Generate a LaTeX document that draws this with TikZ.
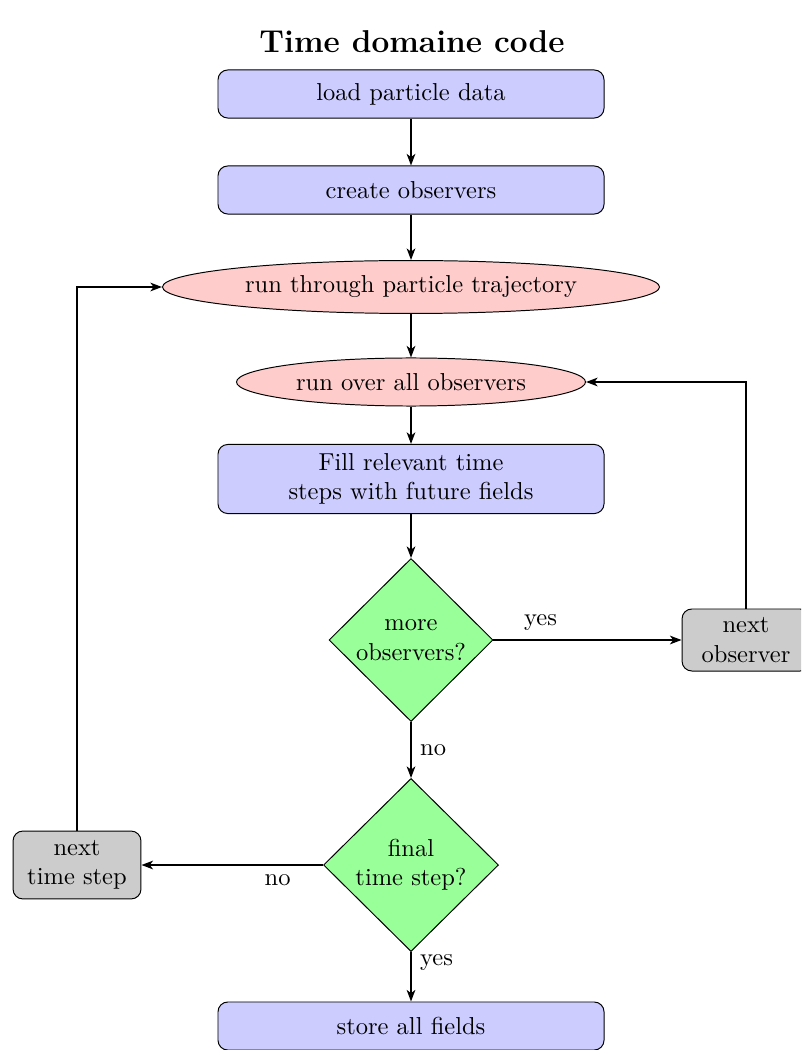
\documentclass[tikz,border=0pt]{standalone}
\usetikzlibrary{shapes.geometric,arrows.meta}

\tikzset{
  block/.style={rectangle, draw, fill=blue!20, rounded corners=4pt,
    align=center, inner sep=0pt, minimum width=157.5pt},
  cloud/.style={ellipse, draw, fill=red!20, inner sep=0pt},
  decision/.style={diamond, draw, fill=green!40, align=center, inner sep=0pt},
  aside/.style={rectangle, draw, fill=gray!40, rounded corners=4pt,
    align=center, inner sep=0pt, minimum width=52.2pt},
  link/.style={draw, thick, -{Stealth[length=4.7pt, width=3.5pt, inset=1.3pt]}},
  tag/.style={inner sep=3.33pt}
}

\begin{document}
\begin{tikzpicture}[x=0.408pt, y=-0.408pt]
  \useasboundingbox (0,0) rectangle (801,1050);
  \clip (0,0) rectangle (801,1050);

  \node (title) at (412,42) {\fontsize{12.9}{15}\selectfont\bfseries Time domaine code};

  \node[block, minimum height=19.6pt] (load)  at (411,94)  {load particle data};
  \node[block, minimum height=19.6pt] (obs)   at (411,190) {create observers};
  \node[cloud, minimum width=202.8pt, minimum height=21.6pt] (traj) at (411,287)
        {run through particle trajectory};
  \node[cloud, minimum width=142.4pt, minimum height=19.6pt] (allobs) at (411,382)
        {run over all observers};
  \node[block, minimum height=28.2pt] (fill)  at (411,479)
        {Fill relevant time\\steps with future fields};
  \node[decision, minimum width=66.9pt, minimum height=66.5pt] (more) at (411,640)
        {more\\observers?};
  \node[aside, minimum height=25.3pt] (nextobs) at (746,640) {next\\observer};
  \node[decision, minimum width=71.4pt, minimum height=70.6pt] (final) at (411,865)
        {final\\time step?};
  \node[aside, minimum height=27.7pt] (nextstep) at (77,865) {next\\time step};
  \node[block, minimum height=19.6pt] (store) at (411,1026) {store all fields};

  \path[link] (load) -- (obs);
  \path[link] (obs) -- (traj);
  \path[link] (traj) -- (allobs);
  \path[link] (allobs) -- (fill);
  \path[link] (fill) -- (more);
  \path[link] (more.east) -- node[tag, above, pos=0.25] {yes} (nextobs.west);
  \path[link] (nextobs.north) |- (allobs.east);
  \path[link] (more.south) -- node[tag, right, pos=0.5] {no} (final.north);
  \path[link] (final.west) -- node[tag, below, pos=0.25] {no} (nextstep.east);
  \path[link] (nextstep.north) |- (traj.west);
  \path[link] (final.south) -- node[tag, right, pos=0.22] {yes} (store.north);
\end{tikzpicture}
\end{document}
